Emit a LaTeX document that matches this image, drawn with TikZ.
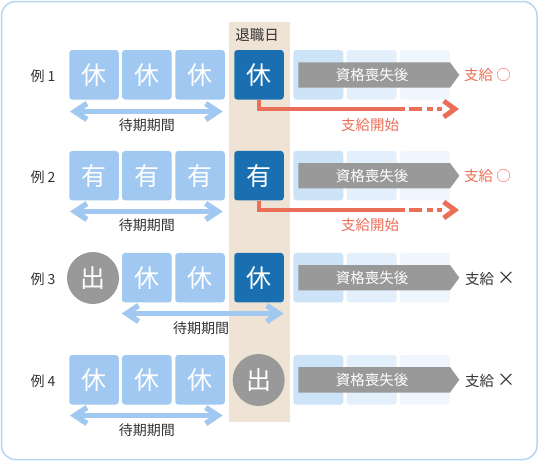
\documentclass[tikz,border=0pt]{standalone}
\usepackage{fontspec}
\setmainfont{Noto Sans CJK JP}
\usetikzlibrary{arrows.meta}
\definecolor{lb}{HTML}{A0C8F0}
\definecolor{db}{HTML}{1A6FB0}
\definecolor{gr}{HTML}{999999}
\definecolor{beige}{HTML}{EFE3D5}
\definecolor{rd}{HTML}{EB6E58}
\definecolor{pa}{HTML}{CDE3F8}
\definecolor{pb}{HTML}{E3EFFB}
\definecolor{pc}{HTML}{F0F6FE}
\definecolor{bd}{HTML}{B3D6F5}
\definecolor{tx}{HTML}{333333}
\newcommand\crossmk{\raisebox{-0.3pt}{\fontsize{18}{18}\selectfont ×}}
\tikzset{
  lbox/.style={fill=lb, rounded corners=3pt, minimum width=49.5pt, minimum height=49.5pt, inner sep=0pt, text=white, font=\fontsize{25}{25}\selectfont},
  dbox/.style={lbox, fill=db},
  pbox/.style={rounded corners=3pt, minimum width=50pt, minimum height=49.5pt, inner sep=0pt},
  circ/.style={circle, fill=gr, minimum size=52pt, inner sep=0pt, text=white, font=\fontsize{25}{25}\selectfont},
  lost/.style={text=white, font=\fontsize{14.5}{14.5}\selectfont, inner sep=0pt},
  lab/.style={text=tx, font=\fontsize{14}{14}\selectfont, inner sep=0pt},
  bigl/.style={font=\fontsize{14.5}{14.5}\selectfont},
  dbl/.style={draw=lb, line width=5.5pt, {Straight Barb[length=12pt,width=16pt,line width=5.5pt]}-{Straight Barb[length=12pt,width=16pt,line width=5.5pt]}},
  redarr/.style={draw=rd, line width=4.5pt, dash pattern=on 155.5pt off 4pt on 12.5pt off 5pt on 6pt off 4.5pt on 5pt off 60pt, -{Straight Barb[length=11pt,width=16pt,line width=5pt]}},
}
\begin{document}
\begin{tikzpicture}[x=1pt,y=-1pt]
\useasboundingbox (0,0) rectangle (539,461);
\fill[white] (0,0) rectangle (539,461);
\draw[bd, line width=1.5pt, rounded corners=14pt] (1.5,1.5) rectangle (537,459.5);
\fill[beige] (229,22) rectangle (290,422);
\node[lab, bigl] (ret) at (257,35) {退職日};

% ---------- row 1 ----------
\node[lbox] (a1) at (94,74.75) {休};
\node[lbox] (b1) at (146.8,74.75) {休};
\node[lbox] (c1) at (200,74.75) {休};
\node[dbox] (d1) at (259,74.75) {休};
\node[pbox, fill=pa] (e1) at (318.3,74.75) {};
\node[pbox, fill=pb] (f1) at (371.7,74.75) {};
\node[pbox, fill=pc] (g1) at (424.8,74.75) {};
\fill[gr] (298.3,62.3) -- (450,62.3) -- (459.3,75) -- (450,87.7) -- (298.3,87.7) -- cycle;
\node[lost] (s1) at (372,75) {資格喪失後};
\node[lab, bigl, text=rd] (p1) at (487.5,75) {支給 ○};
\node[lab] (l1) at (43,76) {例 1};
\coordinate (t1) at (459,109);
\draw[redarr] (d1.south) |- (t1);
\node[lab, bigl, text=rd] (k1) at (370,125) {支給開始};
\coordinate (u1) at (70,111.5);
\coordinate (v1) at (222.7,111.5);
\draw[dbl] (u1) -- (v1);
\node[lab] (w1) at (146.8,125) {待期期間};

% ---------- row 2 ----------
\node[lbox] (a2) at (94,175.7) {有};
\node[lbox] (b2) at (146.8,175.7) {有};
\node[lbox] (c2) at (200,175.7) {有};
\node[dbox] (d2) at (259,175.7) {有};
\node[pbox, fill=pa] (e2) at (318.3,175.7) {};
\node[pbox, fill=pb] (f2) at (371.7,175.7) {};
\node[pbox, fill=pc] (g2) at (424.8,175.7) {};
\fill[gr] (298.3,163) -- (450,163) -- (459.3,175.7) -- (450,188.4) -- (298.3,188.4) -- cycle;
\node[lost] (s2) at (372,175.7) {資格喪失後};
\node[lab, bigl, text=rd] (p2) at (487.5,176) {支給 ○};
\node[lab] (l2) at (43,177) {例 2};
\coordinate (t2) at (459,210);
\draw[redarr] (d2.south) |- (t2);
\node[lab, bigl, text=rd] (k2) at (370,225) {支給開始};
\coordinate (u2) at (70,211.5);
\coordinate (v2) at (222.7,211.5);
\draw[dbl] (u2) -- (v2);
\node[lab] (w2) at (146.8,225.5) {待期期間};

% ---------- row 3 ----------
\node[circ] (a3) at (93,278) {出};
\node[lbox] (b3) at (146.8,277.7) {休};
\node[lbox] (c3) at (200,277.7) {休};
\node[dbox] (d3) at (259,277.7) {休};
\node[pbox, fill=pa] (e3) at (318.3,277.7) {};
\node[pbox, fill=pb] (f3) at (371.7,277.7) {};
\node[pbox, fill=pc] (g3) at (424.8,277.7) {};
\fill[gr] (298.3,265) -- (450,265) -- (459.3,277.7) -- (450,290.4) -- (298.3,290.4) -- cycle;
\node[lost] (s3) at (372,277.7) {資格喪失後};
\node[lab, bigl, anchor=west] (p3) at (465,278.5) {支給 \crossmk};
\node[lab] (l3) at (43,279) {例 3};
\coordinate (u3) at (121.7,313.5);
\coordinate (v3) at (283.7,313.5);
\draw[dbl] (u3) -- (v3);
\node[lab] (w3) at (201,328.5) {待期期間};

% ---------- row 4 ----------
\node[lbox] (a4) at (94,379.75) {休};
\node[lbox] (b4) at (146.8,379.75) {休};
\node[lbox] (c4) at (200,379.75) {休};
\node[circ] (d4) at (258.7,380) {出};
\node[pbox, fill=pa] (e4) at (318.3,379.75) {};
\node[pbox, fill=pb] (f4) at (371.7,379.75) {};
\node[pbox, fill=pc] (g4) at (424.8,379.75) {};
\fill[gr] (298.3,367) -- (450,367) -- (459.3,379.75) -- (450,392.5) -- (298.3,392.5) -- cycle;
\node[lost] (s4) at (372,379.75) {資格喪失後};
\node[lab, bigl, anchor=west] (p4) at (465,380.5) {支給 \crossmk};
\node[lab] (l4) at (43,381) {例 4};
\coordinate (u4) at (70,415.5);
\coordinate (v4) at (222.7,415.5);
\draw[dbl] (u4) -- (v4);
\node[lab] (w4) at (146.8,430) {待期期間};
\end{tikzpicture}
\end{document}
